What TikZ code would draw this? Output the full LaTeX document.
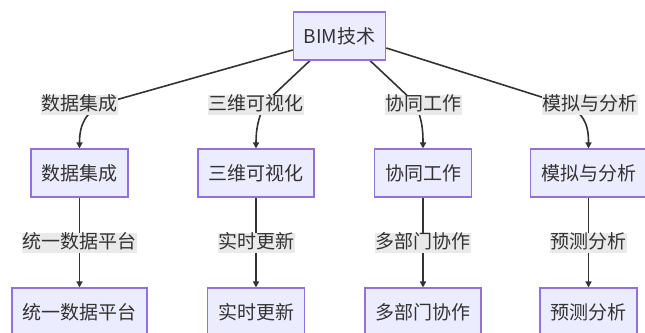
\documentclass[tikz,border=0pt]{standalone}
\usepackage{fontspec}
\setmainfont{Noto Sans CJK SC}
\usetikzlibrary{arrows.meta,calc}
\pgfdeclarelayer{paper}
\pgfdeclarelayer{wires}
\pgfsetlayers{paper,wires,main}
\definecolor{boxfill}{HTML}{ECECFF}
\definecolor{boxline}{HTML}{9370DB}
\definecolor{lblfill}{HTML}{EAEAEA}
\definecolor{ink}{HTML}{333333}
\tikzset{
  box/.style={draw=boxline, fill=boxfill, line width=1.1pt, minimum height=48pt,
    inner xsep=10.5pt, inner ysep=0pt, text=ink, font=\fontsize{19}{19}\selectfont},
  lbl/.style={fill=lblfill, inner xsep=0.5pt, inner ysep=0pt, text height=15.5pt, text depth=4.5pt,
    text=ink, font=\fontsize{19}{19}\selectfont},
  edge/.style={draw=ink, line width=1.6pt, -{Triangle[length=6pt,width=6pt]}},
}
\begin{document}
\begin{tikzpicture}[x=1pt,y=-1pt]
\begin{pgfonlayer}{paper}
\fill[white] (0,0) rectangle (645,332);
\end{pgfonlayer}
\useasboundingbox (0,0) rectangle (645,332);
% nodes
\node[box] (bim) at (339.5,36) {BIM技术};
\node[box] (b1) at (79.5,173) {数据集成};
\node[box] (b2) at (256,173) {三维可视化};
\node[box] (b3) at (423,173) {协同工作};
\node[box] (b4) at (588.5,173) {模拟与分析};
\node[box] (c1) at (79.5,312) {统一数据平台};
\node[box] (c2) at (256,312) {实时更新};
\node[box] (c3) at (423,312) {多部门协作};
\node[box] (c4) at (588.5,312) {预测分析};
% edge labels, first level
\node[lbl] (l1) at (79,105) {数据集成};
\node[lbl] (l2) at (256,105) {三维可视化};
\node[lbl] (l3) at (423,105) {协同工作};
\node[lbl] (l4) at (589.5,105) {模拟与分析};
% edge labels, second level
\node[lbl] (m1) at (79.5,243) {统一数据平台};
\node[lbl] (m2) at (256,243) {实时更新};
\node[lbl] (m3) at (423,243) {多部门协作};
\node[lbl] (m4) at (588.5,243) {预测分析};
\begin{pgfonlayer}{wires}
\draw[edge] ([yshift=-14pt]bim.west) -- ($(l1.center)+(26,-2)$)
  .. controls ($(b1.north)+(6,-37)$) and ($(b1.north)+(0,-24)$) .. (b1.north);
\draw[edge] ([xshift=-29.5pt]bim.south) -- ($(l2.center)+(10,-3)$)
  .. controls ($(b2.north)+(2,-31)$) and ($(b2.north)+(0,-19)$) .. (b2.north);
\draw[edge] ([xshift=30.5pt]bim.south) -- ($(l3.center)+(-9,-3)$)
  .. controls ($(b3.north)+(-1,-31)$) and ($(b3.north)+(0,-19)$) .. (b3.north);
\draw[edge] ([yshift=-12pt]bim.east) -- ($(l4.center)+(-29,-2)$)
  .. controls ($(b4.north)+(-4,-37)$) and ($(b4.north)+(0,-24)$) .. (b4.north);
\draw[edge] (b1) -- (c1);
\draw[edge] (b2) -- (c2);
\draw[edge] (b3) -- (c3);
\draw[edge] (b4) -- (c4);
\end{pgfonlayer}
\end{tikzpicture}
\end{document}
